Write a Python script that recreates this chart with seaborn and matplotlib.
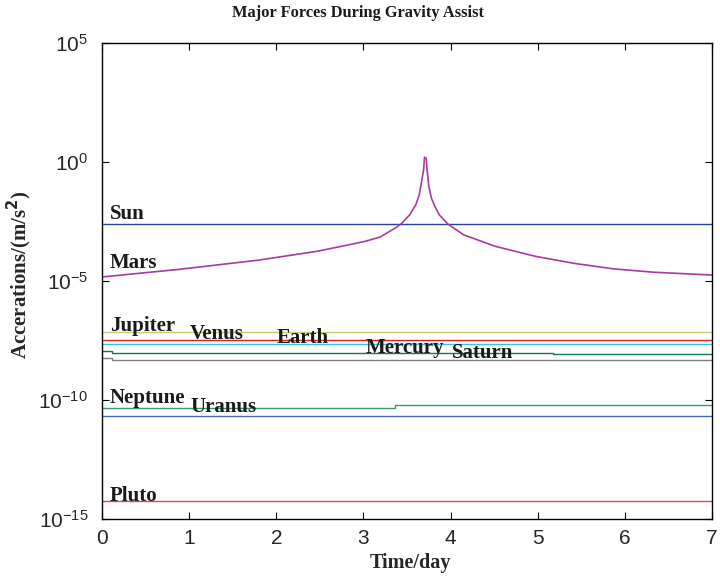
import numpy as np
import pandas as pd
import matplotlib
matplotlib.use("Agg")
import matplotlib.pyplot as plt
import seaborn as sns
from matplotlib.ticker import NullLocator

# ---- data ----
mars_t = [0.0, 0.885, 1.79, 2.47, 3.0, 3.19, 3.38, 3.44, 3.53, 3.60, 3.64, 3.67, 3.69, 3.70,
          3.72, 3.73, 3.75, 3.78, 3.82, 3.87, 3.97, 4.15, 4.51, 4.97, 5.42, 5.87, 6.33, 7.0]
mars_log = [-4.83, -4.51, -4.125, -3.75, -3.35, -3.155, -2.74, -2.57, -2.22, -1.80, -1.38, -0.75, -0.33, 0.20,
            0.16, -0.33, -1.03, -1.52, -1.87, -2.22, -2.61, -3.06, -3.54, -3.96, -4.26, -4.49, -4.63, -4.75]

sun_t, sun_a = [0, 7], [2.4e-3, 2.4e-3]
jupiter_t, jupiter_a = [0, 7], [7.1e-8, 7.1e-8]
venus_t, venus_a = [0, 7], [3.2e-8, 3.2e-8]
earth_t, earth_a = [0, 7], [2.2e-8, 2.2e-8]
mercury_t, mercury_a = [0, 0.12, 5.18, 7], [1.15e-8, 9.1e-9, 8.3e-9, 8.3e-9]
saturn_t, saturn_a = [0, 0.12, 7], [5.6e-9, 4.8e-9, 4.8e-9]
neptune_t, neptune_a = [0, 3.36, 7], [4.8e-11, 6.0e-11, 6.0e-11]
uranus_t, uranus_a = [0, 7], [2.06e-11, 2.06e-11]
pluto_t, pluto_a = [0, 7], [5.9e-15, 5.9e-15]

labels = ["Sun", "Mars", "Jupiter", "Venus", "Earth", "Mercury", "Saturn", "Neptune", "Uranus", "Pluto"]
label_x = [0.09, 0.09, 0.09, 1.01, 2.0, 3.02, 4.02, 0.09, 1.02, 0.09]
label_log = [-2.39, -4.44, -7.09, -7.45, -7.62, -8.04, -8.25, -10.13, -10.49, -14.23]

xticks = [0, 1, 2, 3, 4, 5, 6, 7]
yticks = [1e-15, 1e-10, 1e-5, 1e0, 1e5]

# ---- style ----
sns.set_style("ticks")
plt.rcParams["font.family"] = ["Liberation Sans", "DejaVu Sans"]
plt.rcParams["xtick.direction"] = "in"
plt.rcParams["ytick.direction"] = "in"

fig = plt.figure(figsize=(7.2, 5.78), dpi=100)
ax = fig.add_axes([0.1417, 0.102, 0.8473, 0.8236])

series = [
    (sun_t, sun_a, "#2b3fa0", False),
    (jupiter_t, jupiter_a, "#c8c870", False),
    (venus_t, venus_a, "#e02020", False),
    (earth_t, earth_a, "#30c8d8", False),
    (mercury_t, mercury_a, "#107840", True),
    (saturn_t, saturn_a, "#808080", True),
    (neptune_t, neptune_a, "#30a060", True),
    (uranus_t, uranus_a, "#4a62c0", False),
    (pluto_t, pluto_a, "#e04848", False),
]
for t, a, c, step in series:
    df = pd.DataFrame({"t": t, "a": a})
    kw = {"drawstyle": "steps-post"} if step else {}
    sns.lineplot(data=df, x="t", y="a", ax=ax, color=c, lw=1.0,
                 estimator=None, sort=False, **kw)

mars_df = pd.DataFrame({"t": mars_t, "a": np.power(10.0, mars_log)})
sns.lineplot(data=mars_df, x="t", y="a", ax=ax, color="#a83aa0", lw=1.2,
             estimator=None, sort=False)

ax.set_yscale("log")
ax.set_xlim(0, 7)
ax.set_ylim(1e-15, 1e5)
ax.set_xticks(xticks)
ax.set_xticklabels([str(v) for v in xticks])
ax.set_yticks(yticks)
ax.yaxis.set_minor_locator(NullLocator())
ax.tick_params(axis="both", which="major", labelsize=15, length=5, width=0.8,
               top=True, right=True, color="black")
ax.tick_params(axis="x", pad=7)
ax.tick_params(axis="y", pad=10)
for s in ax.spines.values():
    s.set_visible(True)
    s.set_linewidth(1.0)
    s.set_color("black")

serif = ["Liberation Serif", "DejaVu Serif"]
for name, lx, ll in zip(labels, label_x, label_log):
    ax.text(lx, 10 ** ll, name, family=serif, fontweight="bold", fontsize=15,
            va="baseline", ha="left", color="#1a1a1a")

ax.set_xlabel("Time/day", family=serif, fontweight="bold", fontsize=14.5)
ax.xaxis.label.set_va("center")
ax.xaxis.set_label_coords(0.505, -0.092)
ax.set_ylabel(r"Accerations/(m/s$^\mathbf{2}$)", family=serif, fontweight="bold", fontsize=15)
ax.yaxis.label.set_va("center")
ax.yaxis.set_label_coords(-0.135, 0.513)
fig.text(358 / 720, 1 - 13 / 578, "Major Forces During Gravity Assist", family=serif,
         fontweight="bold", fontsize=11.8, ha="center", va="center", color="#1a1a1a")

fig.savefig("out.png", dpi=100)
